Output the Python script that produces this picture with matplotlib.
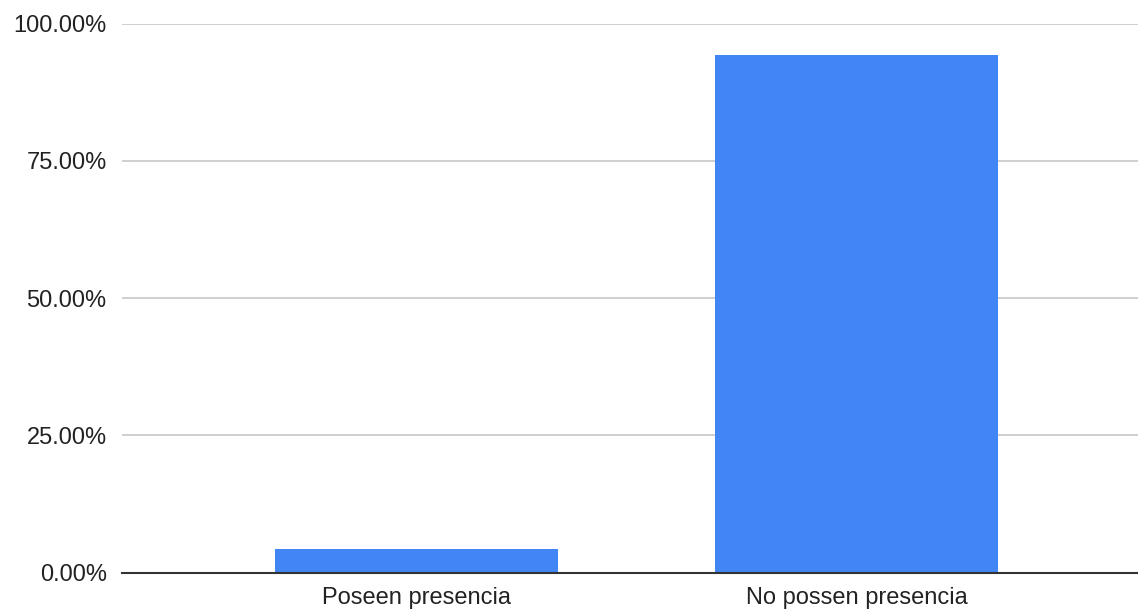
import matplotlib
matplotlib.use("Agg")
import matplotlib.pyplot as plt
from matplotlib.ticker import FuncFormatter

categories = ["Poseen presencia", "No possen presencia"]
values = [4.26, 94.26]
yticks = [0, 25, 50, 75, 100]

plt.rcParams["font.family"] = ["Liberation Sans", "DejaVu Sans"]

fig = plt.figure(figsize=(11.38, 6.10), dpi=100)
ax = fig.add_axes([122 / 1138, (610 - 572.7) / 610, (1138 - 122) / 1138, (572.7 - 23.5) / 610])

x = list(range(len(categories)))
ax.bar(x, values, width=0.643, color="#4285F4", zorder=3)

ax.set_xlim(-0.669, 1.64)
ax.set_ylim(0, 100)
ax.set_yticks(yticks)
ax.yaxis.set_major_formatter(FuncFormatter(lambda v, _: f"{v:.2f}%"))
ax.set_xticks(x)
ax.set_xticklabels(categories)

ax.tick_params(axis="both", length=0, labelsize=17, colors="#222222")
ax.tick_params(axis="y", pad=11)
ax.tick_params(axis="x", pad=10)

ax.grid(axis="y", color="#cccccc", linewidth=1.3, zorder=0)
for side in ["top", "right", "left"]:
    ax.spines[side].set_visible(False)
ax.spines["bottom"].set_color("#333333")
ax.spines["bottom"].set_linewidth(1.5)
ax.spines["bottom"].set_zorder(4)

fig.savefig("out.png", dpi=100)
